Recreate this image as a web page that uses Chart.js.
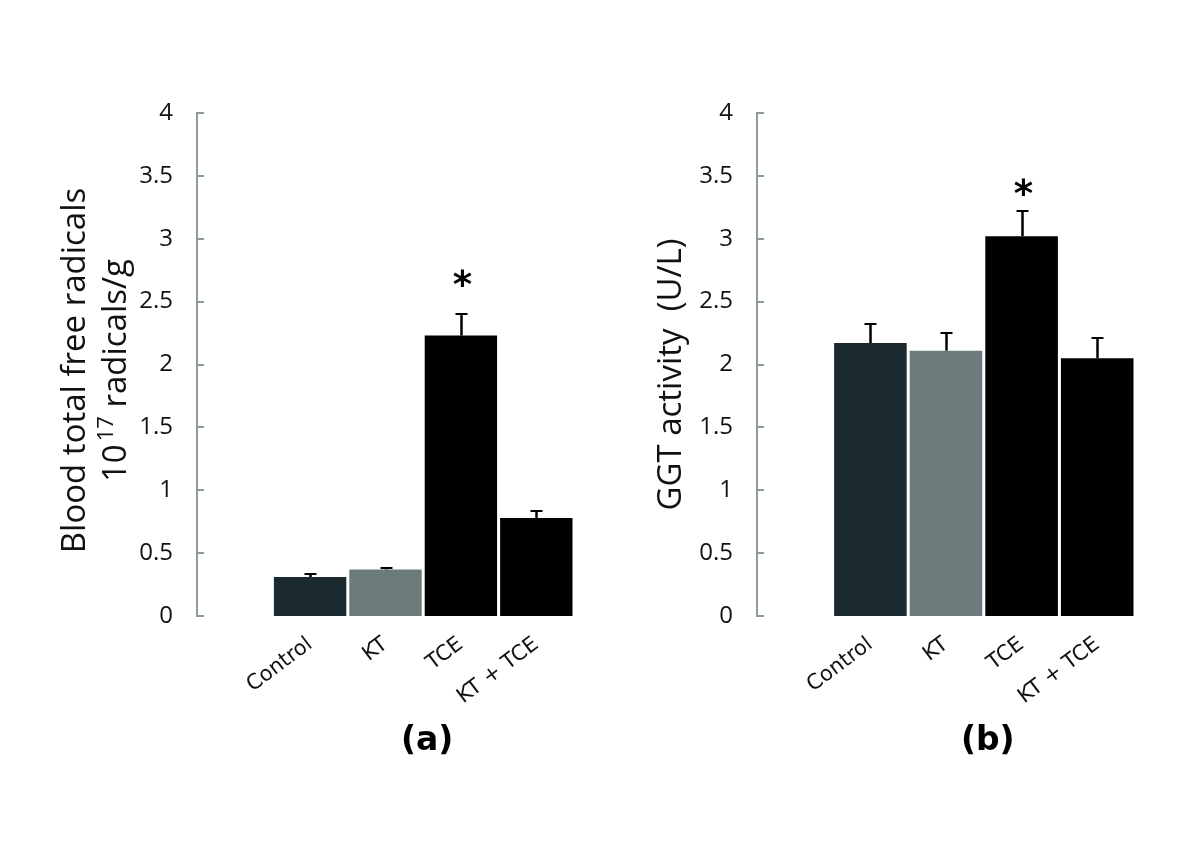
<!DOCTYPE html>
<html><head><meta charset="utf-8">
<script src="https://cdn.jsdelivr.net/npm/chart.js@4"></script>
<style>
html,body{margin:0;padding:0;background:#fff;}
#wrap{position:relative;width:1200px;height:865px;background:#fff;}
canvas{position:absolute;top:0;}
#ca{left:0;} #cb{left:600px;}
</style></head><body>
<div id="wrap"><canvas id="ca" width="600" height="865"></canvas><canvas id="cb" width="600" height="865"></canvas></div>
<script>
const categories = ['Control', 'KT', 'TCE', 'KT + TCE'];
const radicalsMean = [0.31, 0.37, 2.23, 0.78];
const radicalsErr = [0.03, 0.02, 0.18, 0.06];
const ggtMean = [2.17, 2.11, 3.02, 2.05];
const ggtErr = [0.16, 0.15, 0.21, 0.17];
const significant = [false, false, true, false];
const yTickLabels = ['0', '0.5', '1', '1.5', '2', '2.5', '3', '3.5', '4'];
const barColors = ['#1b2a2e', '#6b7b7b', '#000000', '#000000'];

const axisColor = '#8d9c9a';
const textColor = '#111111';

const decor = {
  id: 'decor',
  afterDatasetsDraw(chart, args, o) {
    const ctx = chart.ctx, xs = chart.scales.x, ys = chart.scales.y, area = chart.chartArea;
    ctx.save();
    // inward tick marks
    ctx.strokeStyle = axisColor; ctx.lineWidth = 2;
    ys.ticks.forEach(t => {
      const py = Math.round(ys.getPixelForValue(t.value));
      ctx.beginPath(); ctx.moveTo(area.left, py); ctx.lineTo(area.left + 7, py); ctx.stroke();
    });
    // error bars and significance stars
    const data = chart.data.datasets[0].data;
    data.forEach((d, i) => {
      const px = Math.round(xs.getPixelForValue(d.x)) + 0.5;
      const top = ys.getPixelForValue(d.y);
      const eTop = Math.round(ys.getPixelForValue(d.y + o.err[i]));
      ctx.strokeStyle = '#000'; ctx.lineWidth = 2.5;
      ctx.beginPath(); ctx.moveTo(px, top); ctx.lineTo(px, eTop); ctx.stroke();
      ctx.lineWidth = 2;
      ctx.beginPath(); ctx.moveTo(px - 6, eTop + 1); ctx.lineTo(px + 6, eTop + 1); ctx.stroke();
      if (significant[i]) {
        const size = 37;
        ctx.fillStyle = '#000';
        ctx.font = 'bold ' + size + 'px "DejaVu Sans"';
        ctx.textAlign = 'center'; ctx.textBaseline = 'alphabetic';
        ctx.fillText('*', px + 1, eTop - o.starGap + 0.59 * size);
      }
    });
    // panel label
    ctx.fillStyle = '#000';
    ctx.font = 'bold 33px "DejaVu Sans"';
    ctx.textAlign = 'center'; ctx.textBaseline = 'middle';
    ctx.fillText(o.panel, xs.getPixelForValue(1.5) + 4, area.bottom + 125);
    // y axis title
    const cy = (area.top + area.bottom) / 2 + o.titleDy;
    ctx.fillStyle = textColor;
    o.title.forEach((line, li) => {
      ctx.save();
      ctx.translate(o.titleX[li], cy);
      ctx.rotate(-Math.PI / 2);
      ctx.textBaseline = 'middle';
      const big = '33px "Open Sans"', small = '22px "Open Sans"';
      let w = 0;
      line.forEach(p => { ctx.font = p.sup ? small : big; w += ctx.measureText(p.t).width + (p.sup ? 3 : 0); });
      let x0 = -w / 2;
      ctx.textAlign = 'left';
      line.forEach(p => {
        ctx.font = p.sup ? small : big;
        ctx.fillText(p.t, x0 + (p.sup ? 3 : 0), p.sup ? -10 : 0);
        x0 += ctx.measureText(p.t).width + (p.sup ? 3 : 0);
      });
      ctx.restore();
    });
    ctx.restore();
  }
};

function makeChart(id, means, errs, cfg) {
  return new Chart(document.getElementById(id), {
    type: 'bar',
    data: {
      datasets: [{
        data: means.map((v, i) => ({ x: i, y: v })),
        backgroundColor: barColors,
        borderWidth: 0,
        barPercentage: 0.96,
        categoryPercentage: 1.0
      }]
    },
    options: {
      responsive: false,
      animation: false,
      devicePixelRatio: 1,
      layout: { padding: { top: 113, right: cfg.right, left: 0, bottom: 0 } },
      plugins: {
        legend: { display: false },
        tooltip: { enabled: false },
        decor: { err: errs, panel: cfg.panel, title: cfg.title, titleX: cfg.titleX, titleDy: cfg.titleDy, starGap: cfg.starGap }
      },
      scales: {
        x: {
          type: 'linear',
          offset: false,
          min: -1.5, max: 3.5,
          grid: { display: false, drawTicks: false, offset: false },
          border: { display: false },
          afterBuildTicks: s => { s.ticks = categories.map((c, i) => ({ value: i })); },
          afterFit: s => { s.height = 249; },
          ticks: {
            autoSkip: false,
            minRotation: 37, maxRotation: 37,
            padding: 16,
            color: textColor,
            font: { family: 'DejaVu Sans', size: 21 },
            callback: v => categories[v] ?? ''
          }
        },
        y: {
          min: 0, max: 4,
          afterFit: s => { s.width = cfg.yWidth; },
          grid: { display: false, drawTicks: false },
          border: { display: true, color: axisColor, width: 2 },
          afterBuildTicks: s => { s.ticks = yTickLabels.map(t => ({ value: parseFloat(t) })); },
          ticks: {
            padding: 24,
            color: textColor,
            font: { family: 'Open Sans', size: 24 },
            callback: (v, i) => yTickLabels[i]
          }
        }
      }
    },
    plugins: [decor]
  });
}

makeChart('ca', radicalsMean, radicalsErr, {
  right: 26, yWidth: 197, panel: '(a)',
  title: [[{ t: 'Blood total free radicals' }], [{ t: '10' }, { t: '17', sup: true }, { t: ' radicals/g' }]],
  titleX: [76, 117], titleDy: 6, starGap: 38
});
makeChart('cb', ggtMean, ggtErr, {
  right: 65, yWidth: 157, panel: '(b)',
  title: [[{ t: 'GGT activity  (U/L)' }]],
  titleX: [72], titleDy: 10, starGap: 26
});
</script>
</body></html>
